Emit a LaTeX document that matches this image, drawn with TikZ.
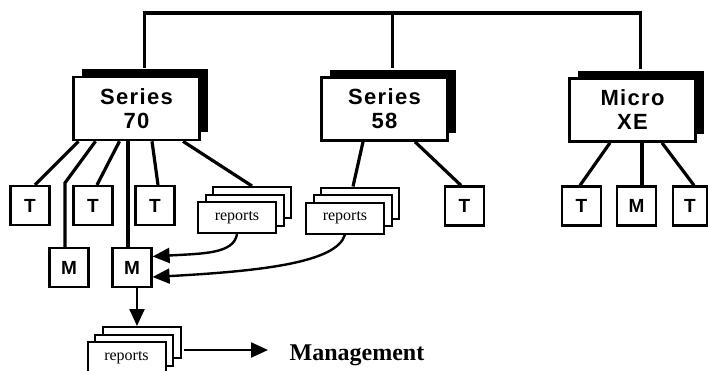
\documentclass[tikz,border=0pt]{standalone}
\usepackage{fontspec}
\setmainfont{Liberation Serif}
\newfontfamily\blocksans[LetterSpace=6]{Liberation Sans}
\usetikzlibrary{arrows.meta,shadows}

\begin{document}
\begin{tikzpicture}[x=1pt, y=-1pt, line width=3.2pt,
    >={Triangle[length=17pt,width=15pt]},
    sysbox/.style={draw, fill=white, line width=2.6pt, minimum width=126pt, minimum height=63pt,
        inner sep=0pt, align=center, font=\blocksans\bfseries\fontsize{22}{24}\selectfont,
        general shadow={shadow xshift=8pt, shadow yshift=8pt, fill=black}},
    termbox/.style={draw, fill=white, line width=2.2pt, minimum width=39pt, minimum height=39pt,
        inner sep=0pt, font=\blocksans\bfseries\fontsize{19}{20}\selectfont},
    repstack/.style={draw, fill=white, line width=2pt, minimum width=78pt, minimum height=31pt,
        inner sep=0pt, font=\fontsize{16}{17}\selectfont,
        general shadow={shadow xshift=15pt, shadow yshift=15pt, draw, fill=white, line width=2pt},
        general shadow={shadow xshift=7.5pt, shadow yshift=7.5pt, draw, fill=white, line width=2pt}},
    flow/.style={->, line width=2.4pt}]
    \useasboundingbox (0,0) rectangle (708,370);

    % the three systems
    \node [sysbox] (s70) at (136.5,108.5) {Series\\70};
    \node [sysbox] (s58) at (384.5,109) {Series\\58};
    \node [sysbox] (xe) at (632.5,110) {Micro\\XE};

    % network line across the top
    \coordinate (bus) at (0,13);
    \path ([xshift=8pt,yshift=8pt]s70.north) coordinate (s70top);
    \path ([xshift=8pt,yshift=8pt]s58.north) coordinate (s58top);
    \path ([xshift=8pt,yshift=8pt]xe.north) coordinate (xetop);
    \draw (s70top) |- (bus -| xetop) -- (xetop);
    \draw (s58top) -- (s58top |- bus);

    % terminals and monitors
    \node [termbox] (t1) at (30,205.5) {T};
    \node [termbox] (t2) at (93,205.5) {T};
    \node [termbox] (t3) at (155,205.5) {T};
    \node [termbox] (m1) at (69,267.5) {M};
    \node [termbox] (m2) at (132,267.5) {M};
    \node [termbox] (t4) at (464.5,206) {T};
    \node [termbox] (t5) at (581.5,206) {T};
    \node [termbox] (m3) at (636.5,206) {M};
    \node [termbox, minimum width=34pt] (t6) at (690,206) {T};

    % report stacks
    \node [repstack] (r70) at (237,217.5) {reports};
    \node [repstack] (r58) at (345,218) {reports};
    \node [repstack] (rm) at (126.5,357.5) {reports};
    \node [anchor=base west, inner sep=0pt, font=\bfseries\fontsize{24}{26}\selectfont] (mgmt) at (288,360) {Management};
    \coordinate (mgmtin) at (268,350);

    % Series 70
    \path ([xshift=-4pt]m1.north) coordinate (m1top);
    \draw ([xshift=-58pt]s70.south) -- ([xshift=5pt]t1.north);
    \draw ([xshift=-41pt]s70.south) -- ([yshift=2pt]m1top |- t1.north) -- (m1top);
    \draw ([xshift=-17pt]s70.south) -- ([xshift=4pt]t2.north);
    \draw ([xshift=-8.5pt]s70.south) -- ([xshift=-4pt]m2.north);
    \draw ([xshift=15.5pt]s70.south) -- ([xshift=3pt]t3.north);
    \draw ([xshift=46.5pt]s70.south) -- ([xshift=15pt,yshift=15pt]r70.north);

    % Series 58
    \draw ([xshift=-21.5pt]s58.south) -- ([xshift=8pt,yshift=15pt]r58.north);
    \draw ([xshift=30.5pt]s58.south) -- ([xshift=-3.5pt]t4.north);

    % Micro XE
    \draw ([xshift=-22.5pt]xe.south) -- ([xshift=-1.5pt]t5.north);
    \draw ([xshift=9.5pt]xe.south) -- ([xshift=5.5pt]m3.north);
    \draw ([xshift=29.5pt]xe.south) -- ([xshift=4pt]t6.north);

    % reports going to the monitor
    \draw [flow] (r70.south) .. controls +(-3,20) and +(50,-3) .. ([yshift=11pt]m2.east);
    \draw [flow] (r58.south) .. controls +(-8,28) and +(110,-6) .. ([yshift=-9.5pt]m2.east);
    \draw [flow] ([xshift=5pt]m2.south) -- ([xshift=10.5pt,yshift=15pt]rm.north);
    \draw [flow] ([xshift=17.5pt,yshift=7.5pt]rm.east) -- (mgmtin);
\end{tikzpicture}
\end{document}
